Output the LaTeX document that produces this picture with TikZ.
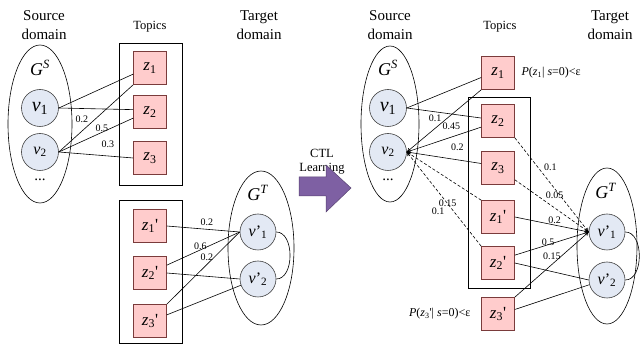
\documentclass[tikz,border=0pt]{standalone}
\usepackage{fontspec}
\setmainfont{Liberation Serif}
\usetikzlibrary{arrows.meta}
\usetikzlibrary{shapes.geometric}
\definecolor{topicpink}{HTML}{FFCCCC}
\definecolor{topicedge}{HTML}{7A3B3B}
\definecolor{userblue}{HTML}{E3E9F4}
\definecolor{ctlpurple}{HTML}{7E60A3}
\newcommand{\topicz}[1]{\textit{z}\textsubscript{#1}}
\newcommand{\topiczp}[1]{\textit{z}\textsubscript{#1}\textquotesingle}
\newcommand{\userv}[1]{\textit{v}\textsubscript{#1}}
\tikzset{topic/.style={draw=topicedge,fill=topicpink,minimum size=33pt,inner sep=0pt,font=\fontsize{17}{17}\selectfont}}
\tikzset{user/.style={circle,draw=black!75,fill=userblue,minimum size=37pt,inner sep=0pt}}
\tikzset{graphoval/.style={ellipse,draw,inner sep=0pt}}
\tikzset{wt/.style={font=\fontsize{10}{10}\selectfont,inner sep=1pt}}
\tikzset{dom/.style={align=center,font=\fontsize{15}{19}\selectfont}}
\tikzset{flow/.style={-{To[length=4pt,width=4pt]}}}
\tikzset{weak/.style={dash pattern=on 3pt off 2pt}}

\begin{document}
\begin{tikzpicture}[x=1pt,y=-1pt,line width=0.6pt]
  \useasboundingbox (0,0) rectangle (640,344);
  \node[dom] (srcL) at (44,25) {Source\\domain};
  \node[dom] (tgtL) at (259,25) {Target\\domain};
  \node[font=\fontsize{12.5}{12.5}\selectfont] (topL) at (150,27) {Topics};
  \node[graphoval,minimum width=64pt,minimum height=158pt] (gsL) at (40,124) {};
  \node[font=\fontsize{18}{18}\selectfont] (gsLtxt) at (40,68) {\textit{G}\textsuperscript{\textit{S}}};
  \node[user,font=\fontsize{20}{20}\selectfont] (v1L) at (40,108) {\userv{1}};
  \node[user,font=\fontsize{16}{16}\selectfont] (v2L) at (40,152) {\userv{2}};
  \node[font=\fontsize{15}{15}\selectfont] (dotsL) at (40,180) {...};
  \node[draw,minimum width=63pt,minimum height=142pt] (boxSL) at (150.5,114) {};
  \node[draw,minimum width=63pt,minimum height=143pt] (boxTL) at (150.5,271.5) {};
  \node[topic] (z1L) at (150,68) {\topicz{1}};
  \node[topic] (z2L) at (150,112) {\topicz{2}};
  \node[topic] (z3L) at (150,158) {\topicz{3}};
  \node[topic] (z1pL) at (150,226) {\topiczp{1}};
  \node[topic] (z2pL) at (150,273) {\topiczp{2}};
  \node[topic] (z3pL) at (150,321) {\topiczp{3}};
  \node[graphoval,minimum width=66pt,minimum height=154pt] (gtL) at (261,248) {};
  \node[font=\fontsize{18}{18}\selectfont] (gtLtxt) at (258,193) {\textit{G}\textsuperscript{\textit{T}}};
  \node[user,minimum size=36pt,font=\fontsize{16}{16}\selectfont] (vt1L) at (258,232) {\textit{v}'\textsubscript{1}};
  \node[user,minimum size=36pt,font=\fontsize{16}{16}\selectfont] (vt2L) at (258,279) {\textit{v}'\textsubscript{2}};
  \draw (v1L.east) -- (z1L.200);
  \draw (v1L.east) -- (z2L.172);
  \draw (v2L.east) -- node[wt,pos=0.31,yshift=12pt] {0.2} (z1L.south west);
  \draw (v2L.east) -- node[wt,pos=0.58,yshift=4pt] {0.5} (z2L.200);
  \draw (v2L.east) -- node[wt,pos=0.66,yshift=12pt] {0.3} (z3L.west);
  \draw (z1pL.east) -- node[wt,pos=0.55,yshift=7pt] {0.2} (vt1L.west);
  \draw (z2pL.25) -- node[wt,pos=0.46,yshift=4pt] {0.6} (vt1L.west);
  \draw (z3pL.north east) -- node[wt,pos=0.55,yshift=7pt] {0.2} (vt1L.west);
  \draw (z2pL.east) -- (vt2L.west);
  \draw (z3pL.20) -- (vt2L.200);
  \draw (vt1L.east) to[out=0,in=0] (vt2L.east);
  \node[align=center,font=\fontsize{12.5}{14}\selectfont] (ctl) at (322,162) {CTL\\Learning};
  \filldraw[fill=ctlpurple,draw=ctlpurple!70!black,line width=0.5pt] (299,177) -- (326,177) -- (326,165) -- (351,188) -- (326,212) -- (326,196) -- (299,196) -- cycle;
  \node[dom] (srcR) at (390,25) {Source\\domain};
  \node[dom] (tgtR) at (610,25) {Target\\domain};
  \node[font=\fontsize{12.5}{12.5}\selectfont] (topR) at (500,27) {Topics};
  \node[graphoval,minimum width=58pt,minimum height=156pt] (gsR) at (390,124) {};
  \node[font=\fontsize{18}{18}\selectfont] (gsRtxt) at (388,68) {\textit{G}\textsuperscript{\textit{S}}};
  \node[user,font=\fontsize{20}{20}\selectfont] (v1R) at (388,108) {\userv{1}};
  \node[user,font=\fontsize{16}{16}\selectfont] (v2R) at (388,152) {\userv{2}};
  \node[font=\fontsize{15}{15}\selectfont] (dotsR) at (388,180) {...};
  \node[draw,minimum width=62pt,minimum height=191pt] (boxR) at (499,192.5) {};
  \node[topic] (z1R) at (498,73) {\topicz{1}};
  \node[topic] (z2R) at (498,121) {\topicz{2}};
  \node[topic] (z3R) at (498,168) {\topicz{3}};
  \node[topic] (z1pR) at (498,217) {\topiczp{1}};
  \node[topic] (z2pR) at (498,263) {\topiczp{2}};
  \node[topic] (z3pR) at (498,314) {\topiczp{3}};
  \node[anchor=west,font=\fontsize{12}{12}\selectfont] (pz1) at (518,73) {\textit{P}(\textit{z}\textsubscript{1}| \textit{s}=0)<ε};
  \node[anchor=east,font=\fontsize{12}{12}\selectfont] (pz3) at (474,314) {\textit{P}(\textit{z}\textsubscript{3}\textquotesingle| \textit{s}=0)<ε};
  \node[graphoval,minimum width=60pt,minimum height=156pt] (gtR) at (607,246) {};
  \node[font=\fontsize{18}{18}\selectfont] (gtRtxt) at (606,191) {\textit{G}\textsuperscript{\textit{T}}};
  \node[user,minimum size=36pt,font=\fontsize{16}{16}\selectfont] (vt1R) at (607,232) {\textit{v}'\textsubscript{1}};
  \node[user,minimum size=36pt,font=\fontsize{16}{16}\selectfont] (vt2R) at (607,280) {\textit{v}'\textsubscript{2}};
  \draw (v1R.east) -- (z1R.195);
  \draw (v1R.east) -- (z2R.170);
  \draw[flow] (z1R.south west) -- node[wt,pos=0.62,yshift=10pt] {0.1} (v2R.east);
  \draw[flow] (z2R.200) -- node[wt,pos=0.4,yshift=11pt] {0.45} (v2R.east);
  \draw[flow] (z3R.165) -- node[wt,pos=0.32,yshift=13pt] {0.2} (v2R.east);
  \draw[flow,weak] (z1pR.north west) -- (v2R.east);
  \draw[flow,weak] (z2pR.north west) -- node[wt,pos=0.45,yshift=1pt] {0.15} node[wt,pos=0.58,yshift=-20pt] {0.1} (v2R.east);
  \draw[flow,weak] (z2R.south east) -- node[wt,pos=0.48,yshift=16pt] {0.1} (vt1R.west);
  \draw[flow,weak] (z3R.-35) -- node[wt,pos=0.54,yshift=13pt] {0.05} (vt1R.west);
  \draw[flow] (z1pR.east) -- node[wt,pos=0.54,yshift=5pt] {0.2} (vt1R.west);
  \draw[flow] (z2pR.25) -- node[wt,pos=0.45,yshift=2pt] {0.5} (vt1R.west);
  \draw[flow] (z3pR.north east) -- node[wt,pos=0.5,yshift=8pt] {0.15} (vt1R.west);
  \draw (z2pR.east) -- (vt2R.west);
  \draw (z3pR.15) -- (vt2R.195);
  \draw (vt1R.east) to[out=0,in=0] (vt2R.east);
\end{tikzpicture}
\end{document}
